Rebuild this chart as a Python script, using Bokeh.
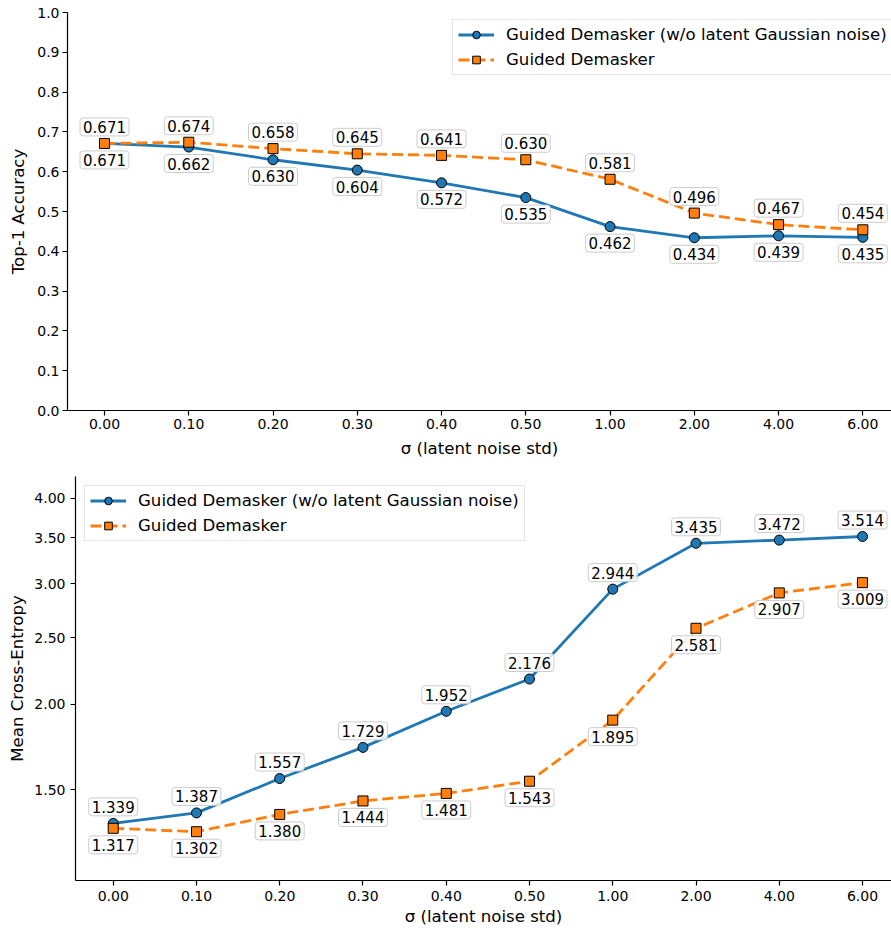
from bokeh.plotting import figure
from bokeh.models import (ColumnDataSource, Range1d, FixedTicker, PrintfTickFormatter,
                          Legend, LegendItem)
from bokeh.core.properties import value
from bokeh.embed import file_html
from bokeh.resources import INLINE

# ---------------- data ----------------
sigma_labels = ["0.00", "0.10", "0.20", "0.30", "0.40", "0.50", "1.00", "2.00", "4.00", "6.00"]
acc_no_noise = [0.671, 0.662, 0.630, 0.604, 0.572, 0.535, 0.462, 0.434, 0.439, 0.435]
acc_guided = [0.671, 0.674, 0.658, 0.645, 0.641, 0.630, 0.581, 0.496, 0.467, 0.454]
ce_no_noise = [1.339, 1.387, 1.557, 1.729, 1.952, 2.176, 2.944, 3.435, 3.472, 3.514]
ce_guided = [1.317, 1.302, 1.380, 1.444, 1.481, 1.543, 1.895, 2.581, 2.907, 3.009]
acc_ticks = [0.0, 0.1, 0.2, 0.3, 0.4, 0.5, 0.6, 0.7, 0.8, 0.9, 1.0]
ce_ticks = [1.5, 2.0, 2.5, 3.0, 3.5, 4.0]
name_no_noise = "Guided Demasker (w/o latent Gaussian noise)"
name_guided = "Guided Demasker"

BLUE = "#1f77b4"
ORANGE = "#ff7f0e"
FONT = "DejaVu Sans"
xs = list(range(len(sigma_labels)))


def style(p, ylabel, yticks, yfmt, y_tick_standoff, y_label_standoff,
          x_tick_standoff, x_label_standoff):
    p.outline_line_color = None
    p.xgrid.visible = False
    p.ygrid.visible = False
    p.background_fill_color = "white"
    p.border_fill_color = "white"
    for ax in (p.xaxis[0], p.yaxis[0]):
        ax.axis_line_color = "black"
        ax.axis_line_width = 1.2
        ax.major_tick_line_color = "black"
        ax.major_tick_line_width = 1.2
        ax.major_tick_out = 5
        ax.major_tick_in = 0
        ax.minor_tick_line_color = None
        ax.major_label_text_font = FONT
        ax.major_label_text_font_size = "14px"
        ax.major_label_text_color = "black"
        ax.axis_label_text_font = FONT
        ax.axis_label_text_font_size = "16.6px"
        ax.axis_label_text_font_style = "normal"
        ax.axis_label_text_color = "black"
    xa = p.xaxis[0]
    xa.ticker = FixedTicker(ticks=xs, minor_ticks=[])
    xa.major_label_overrides = {i: s for i, s in enumerate(sigma_labels)}
    xa.axis_label = "σ (latent noise std)"
    xa.major_label_standoff = x_tick_standoff
    xa.axis_label_standoff = x_label_standoff
    ya = p.yaxis[0]
    ya.ticker = FixedTicker(ticks=yticks, minor_ticks=[])
    ya.formatter = PrintfTickFormatter(format=yfmt)
    ya.axis_label = ylabel
    ya.major_label_standoff = y_tick_standoff
    ya.axis_label_standoff = y_label_standoff


def draw(p, y_a, y_b, a_up):
    src_a = ColumnDataSource(dict(x=xs, y=y_a, t=["%.3f" % v for v in y_a]))
    src_b = ColumnDataSource(dict(x=xs, y=y_b, t=["%.3f" % v for v in y_b]))
    la = p.line("x", "y", source=src_a, line_color=BLUE, line_width=2.8)
    sa = p.scatter("x", "y", source=src_a, marker="circle", size=10,
                   fill_color=BLUE, line_color="black", line_width=1)
    lb = p.line("x", "y", source=src_b, line_color=ORANGE, line_width=2.8, line_dash="11 5")
    sb = p.scatter("x", "y", source=src_b, marker="square", size=10,
                   fill_color=ORANGE, line_color="black", line_width=1)
    off_a = -16.5 if a_up else 16.5
    off_b = 16.5 if a_up else -16.5
    for src, off in ((src_a, off_a), (src_b, off_b)):
        p.text("x", "y", text="t", source=src, y_offset=off,
               text_font=value(FONT), text_font_size="15px", text_color="black",
               text_align="center", text_baseline="middle",
               background_fill_color="white", background_fill_alpha=0.85,
               border_line_color="#cccccc", border_line_width=1,
               padding=(3, 3), border_radius=3)
    return la, sa, lb, sb


def add_legend(p, r, loc, margin):
    la, sa, lb, sb = r
    leg = Legend(items=[LegendItem(label=name_no_noise, renderers=[la, sa]),
                        LegendItem(label=name_guided, renderers=[lb, sb])],
                 location=loc)
    leg.label_text_font = FONT
    leg.label_text_font_size = "16.6px"
    leg.label_text_color = "black"
    leg.glyph_width = 36
    leg.glyph_height = 19
    leg.label_height = 19
    leg.label_standoff = 12
    leg.spacing = 6
    leg.padding = 5
    leg.margin = margin
    leg.border_line_color = "#cccccc"
    leg.border_line_width = 1
    leg.background_fill_color = "white"
    leg.background_fill_alpha = 0.85
    p.add_layout(leg)


# ---------------- top: accuracy ----------------
p1 = figure(width=891, height=466, output_backend="svg", toolbar_location=None,
            x_range=Range1d(-0.439, 9.34), y_range=Range1d(0.0, 1.0))
p1.min_border_left = 67
p1.min_border_right = 0
p1.min_border_top = 12
p1.min_border_bottom = 56
style(p1, "Top-1 Accuracy", acc_ticks, "%.1f", 3, 6, 3, 7)
r1 = draw(p1, acc_no_noise, acc_guided, a_up=False)
add_legend(p1, r1, (385, 335), 0)

# ---------------- bottom: cross-entropy (log) ----------------
p2 = figure(width=891, height=464, output_backend="svg", toolbar_location=None,
            y_axis_type="log",
            x_range=Range1d(-0.453, 9.348), y_range=Range1d(1.105, 4.30))
p2.min_border_left = 75
p2.min_border_right = 0
p2.min_border_top = 10
p2.min_border_bottom = 50
style(p2, "Mean Cross-Entropy", ce_ticks, "%.2f", 5, 4, 5, 3)
r2 = draw(p2, ce_no_noise, ce_guided, a_up=True)
add_legend(p2, r2, "top_left", 9)

open("out.html", "w").write(file_html([p1, p2], INLINE))
